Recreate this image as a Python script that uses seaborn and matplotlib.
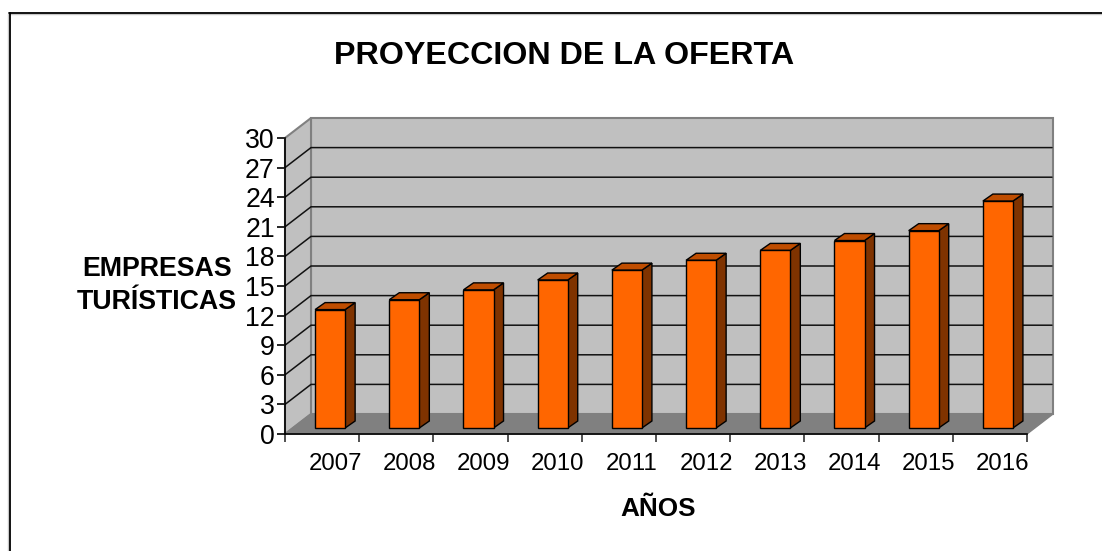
import matplotlib
matplotlib.use("Agg")
import matplotlib.pyplot as plt
from matplotlib.lines import Line2D
from matplotlib.patches import Polygon, Rectangle
from matplotlib.transforms import Affine2D, ScaledTranslation
import pandas as pd
import seaborn as sns

# ---- data ----
years = ["2007", "2008", "2009", "2010", "2011", "2012", "2013", "2014", "2015", "2016"]
empresas = [12, 13, 14, 15, 16, 17, 18, 19, 20, 23]
y_ticks = [0, 3, 6, 9, 12, 15, 18, 21, 24, 27, 30]

df = pd.DataFrame({"year": years, "empresas": empresas})

sns.set_theme(style="white")
plt.rcParams["font.family"] = ["Liberation Sans", "DejaVu Sans"]

W, H = 1102, 551
fig = plt.figure(figsize=(W / 100, H / 100), dpi=100, facecolor="white")

# front plane of the fake 3d box, in pixels
left, right, top, bottom = 285, 1027, 138, 434
ax = fig.add_axes([left / W, 1 - bottom / H, (right - left) / W, (bottom - top) / H])
ax.patch.set_visible(False)

sns.barplot(data=df, x="year", y="empresas", color="#FF6600", saturation=1,
            width=0.405, edgecolor="black", linewidth=1.0, ax=ax, zorder=5)
ax.set_xlim(-0.5, 9.5)
ax.set_ylim(0, 30)

fig.canvas.draw()

# depth of the box and of the bars, in pixels
back = ax.transData + Affine2D().translate(26, 20)
to_px = ax.transData


def box_poly(points, color, edge="none", lw=0.0, z=1):
    ax.add_patch(Polygon(points, closed=True, facecolor=color, edgecolor=edge,
                         linewidth=lw, transform=None, clip_on=False, zorder=z))


x0, y0 = to_px.transform((-0.5, 0))
x1, y1 = to_px.transform((9.5, 30))

bars = list(ax.patches)

# back wall, side wall, floor
ax.add_patch(Rectangle((-0.5, 0), 10, 30, facecolor="#C0C0C0", edgecolor="#808080",
                       linewidth=1.5, transform=back, clip_on=False, zorder=1))
box_poly([(x0, y0), (x0 + 26, y0 + 20), (x0 + 26, y1 + 20), (x0, y1)], "#C0C0C0", "#808080", 1.5, 1)
box_poly([(x0, y0), (x1, y0), (x1 + 26, y0 + 20), (x0 + 26, y0 + 20)], "#808080", "#808080", 1.0, 2)

# gridlines go along the side wall and across the back wall
for t in y_ticks[1:-1]:
    _, yt = to_px.transform((0, t))
    ax.plot([x0, x0 + 26, x1 + 25], [yt, yt + 20, yt + 20], color="#111111", lw=1.1,
            transform=None, clip_on=False, zorder=3)

# move the bars into the box and add top and side faces
for bar in bars:
    bx, by, bw, bh = bar.get_x(), bar.get_y(), bar.get_width(), bar.get_height()
    (px0, py0), (px1, py1) = to_px.transform([(bx, by), (bx + bw, by + bh)])
    px0, px1, py0, py1 = px0 + 8, px1 + 8, py0 + 6, py1 + 6
    bar.set_transform(ax.transData + Affine2D().translate(8, 6))
    bar.set_clip_on(False)
    dx, dy = 10, 7
    box_poly([(px1, py0), (px1 + dx, py0 + dy), (px1 + dx, py1 + dy), (px1, py1)],
             "#7F3300", "black", 1.0, 4)
    box_poly([(px0, py1), (px1, py1), (px1 + dx, py1 + dy), (px0 + dx, py1 + dy)],
             "#BF4D00", "black", 1.0, 4)

# axes
sns.despine(ax=ax, top=True, right=True)
for side in ["left", "bottom"]:
    ax.spines[side].set_color("black")
    ax.spines[side].set_linewidth(1.2)
    ax.spines[side].set_zorder(6)

ax.set_yticks(y_ticks)
ax.set_xticks([i - 0.5 for i in range(11)], minor=False)
ax.set_xticklabels([])
ax.set_xticks(range(10), labels=years, minor=True)
ax.tick_params(axis="x", which="major", length=6, width=1.2, color="#333333", bottom=True)
ax.tick_params(axis="x", which="minor", length=0, pad=14, labelsize=17.3, labelcolor="black")
ax.tick_params(axis="y", length=6, width=1.2, color="black", left=True, pad=1.3,
               labelsize=19.2, labelcolor="black")
ax.set_xlabel("")
ax.set_ylabel("")

# year labels sit to the right of the category centre
shift = ScaledTranslation(13 / 100, 0, fig.dpi_scale_trans)
for lab in ax.get_xticklabels(minor=True):
    lab.set_transform(lab.get_transform() + shift)

# texts
fig.text(564 / W, 1 - 56.5 / H, "PROYECCION DE LA OFERTA", ha="center", va="center",
         fontsize=23.2, fontweight="bold", color="black")
fig.text(157 / W, 1 - 285.5 / H, "EMPRESAS\nTURÍSTICAS", ha="center", va="center",
         fontsize=19.3, fontweight="bold", color="black", linespacing=1.38, multialignment="center")
fig.text(658 / W, 1 - 509 / H, "AÑOS", ha="center", va="center",
         fontsize=18.8, fontweight="bold", color="black")

# outer frame: only top and left edges are in view, with a light shadow
for (xs, ys, col, lw) in [([8 / W, 8 / W], [0, 1 - 14 / H], "#C8C8C8", 1.0),
                          ([9 / W, 1], [1 - 14 / H, 1 - 14 / H], "#C8C8C8", 1.0),
                          ([9.5 / W, 9.5 / W], [0, 1 - 12.5 / H], "black", 1.3),
                          ([9 / W, 1], [1 - 12.5 / H, 1 - 12.5 / H], "black", 1.3)]:
    fig.add_artist(Line2D(xs, ys, color=col, linewidth=lw, transform=fig.transFigure))

fig.savefig("out.png", dpi=100)
